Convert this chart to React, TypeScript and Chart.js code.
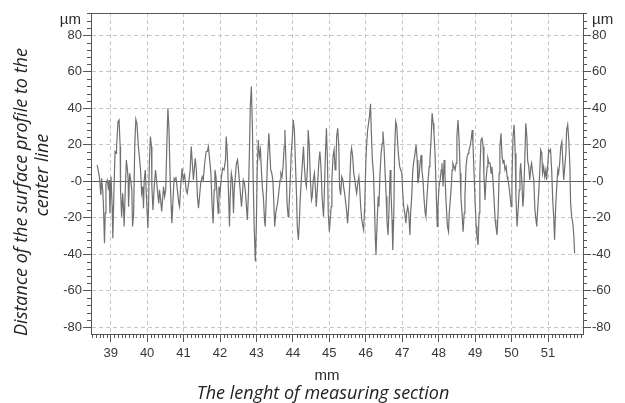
import React, { useEffect, useRef } from 'react';
import { Chart, registerables } from 'chart.js';

Chart.register(...registerables);

// axis ranges (mm / µm)
const X_MIN = 38.46;
const X_MAX = 51.96;
const Y_MIN = -83.7;
const Y_MAX = 92.2;
const X_MAJOR = 1;
const X_MINOR = 0.1;
const Y_MAJOR = 20;
const Y_MINOR = 4;

// texts
const yUnit = 'µm';
const xUnit = 'mm';
const xTitle = 'The lenght of measuring section';
const yTitleLines = ['Distance of the surface profile to the', 'center line'];

// surface profile [position mm, deviation µm]
const profile39to41: [number, number][] = [
  [38.63, 8.9], [38.69, 2.5], [38.73, -7.5], [38.75, 1.6], [38.78, -4.7], [38.80, -12.1], [38.83, -33.9], [38.85, -17.5],
  [38.87, -1.1], [38.91, 0.7], [38.94, -4.7], [38.96, 0.7], [38.98, -17.5], [39.01, 2.5], [39.04, -13.9], [39.06, -31.2],
  [39.09, -4.7], [39.12, 16.3], [39.15, 15.3], [39.16, 18.1], [39.20, 32.7], [39.23, 33.6], [39.26, 19], [39.27, -4.7],
  [39.30, -19.4], [39.33, -6.6], [39.35, -13.9], [39.37, -24.8], [39.40, -4.7], [39.43, 11.7], [39.46, 6.2], [39.48, 0.7],
  [39.49, -13.9], [39.52, 4.4], [39.55, 0.7], [39.58, -4.7], [39.60, -24.8], [39.63, -17.5], [39.66, 19], [39.69, 34],
  [39.72, 31.8], [39.76, 19], [39.79, 12.6], [39.82, 6.2], [39.85, -6.6], [39.88, -2.9], [39.90, -14.8], [39.92, 0.7],
  [39.95, 6.2], [39.98, -8.4], [40.02, -25.8], [40.04, -13.9], [40.06, 9.9], [40.09, 24.5], [40.12, 19], [40.13, -2.9],
  [40.16, -15.7], [40.19, -4.7], [40.23, 6.2], [40.25, 2.5], [40.29, -6.6], [40.32, -12.1], [40.34, -4.7], [40.37, -10.2],
  [40.40, -16.6], [40.43, -8.4], [40.45, -2.9], [40.48, -8.4], [40.51, -4.7], [40.54, 19], [40.57, 40], [40.60, 28.1],
  [40.63, 2.5], [40.66, -13.9], [40.68, -23], [40.71, -10.2], [40.74, 1.6], [40.77, 0.7], [40.79, 2.5], [40.83, -4.7],
  [40.87, -12.1], [40.89, -13.9], [40.92, -2.9], [40.96, 7.1], [40.99, 0.7], [41.03, 3.5], [41.07, -4.7], [41.10, -6.6],
  [41.14, -1.1], [41.18, 6.2], [41.21, 19], [41.24, 9.9], [41.27, 0.7], [41.30, 8], [41.32, 12.6], [41.35, 6.2],
  [41.38, -8.4], [41.41, -14.8], [41.43, -10.2], [41.47, -1.1], [41.51, 2.5], [41.54, 0.7], [41.58, 9.9], [41.62, 16.3],
  [41.65, 16.3], [41.68, 19], [41.71, 13],
];

const profile42to45: [number, number][] = [
  [41.75, 4.4], [41.78, -12.1], [41.81, -23], [41.84, -4.7], [41.86, 6.2], [41.89, 2.5], [41.92, -8.4], [41.95, -17.5],
  [41.97, -2.9], [42.00, -6.6], [42.04, 2.5], [42.07, 7.1], [42.11, 6.2], [42.15, 11.7], [42.17, 24.5], [42.20, 15.3],
  [42.23, -4.7], [42.26, -24.8], [42.28, -8.4], [42.31, 4.4], [42.34, 0.7], [42.37, -17.5], [42.39, -4.7], [42.42, 2.5],
  [42.45, 9.9], [42.48, 11.7], [42.50, 8], [42.53, 0.7], [42.56, -6.6], [42.59, -13.9], [42.61, -8.4], [42.64, 0.7],
  [42.67, -1.1], [42.70, -6.6], [42.72, -12.1], [42.75, -21.2], [42.78, -6.6], [42.81, 19], [42.83, 40.9], [42.86, 51.9],
  [42.89, 28.1], [42.91, 0.7], [42.94, -26.7], [42.97, -44], [43.00, -21.2], [43.02, 6.2], [43.05, 22.6], [43.08, 13.5],
  [43.11, 17.2], [43.13, 8], [43.16, -2.9], [43.19, -8.4], [43.22, -21.2], [43.24, -24.8], [43.27, -8.4], [43.30, 9.9],
  [43.34, 26.3], [43.36, 19], [43.39, 6.2], [43.42, 4.4], [43.45, 0.7], [43.47, -8.4], [43.50, -24.8], [43.53, -17.5],
  [43.56, -13.9], [43.58, -12.1], [43.61, -6.6], [43.65, 0.7], [43.67, 4.4], [43.70, 2.5], [43.73, 8], [43.76, 19],
  [43.78, 28.1], [43.81, 9.9], [43.84, -12.1], [43.87, -19.4], [43.89, -15.7], [43.92, -2.9], [43.95, 13.5], [43.98, 22.6],
  [44.01, 33.6], [44.04, 28.1], [44.07, 9.9], [44.10, -8.4], [44.12, -24.8], [44.15, -32.1], [44.18, -21.2], [44.20, -10.2],
  [44.23, 0.7], [44.26, 9.9], [44.29, 19], [44.31, 9.9], [44.34, 0.7], [44.37, -2.9], [44.40, 8], [44.42, 28.1],
  [44.45, 19], [44.48, 0.7], [44.51, -10.2], [44.53, -8.4], [44.56, 0.7], [44.59, 4.4], [44.62, -4.7], [44.64, -13.9],
  [44.67, -4.7], [44.71, 9.9], [44.74, 16.3], [44.77, 8], [44.80, -8.4], [44.84, -19.4], [44.86, -8.4], [44.89, 13.5],
  [44.92, 29], [44.95, 9.9], [44.97, -17.5], [45.00, -27.6],
];

const profile45to48: [number, number][] = [
  [45.05, -13.9], [45.07, 0.7], [45.10, 13.5], [45.13, 17.2], [45.16, 6.2], [45.18, 8], [45.20, 24.5], [45.23, 29],
  [45.26, 19], [45.28, -2.9], [45.31, -7.5], [45.34, 2.5], [45.37, 0.7], [45.39, -2.9], [45.42, -6.6], [45.45, -12.1],
  [45.48, -17.5], [45.50, -23], [45.53, -13.9], [45.56, -1.1], [45.59, 15.3], [45.61, 18.1], [45.64, 13.5], [45.67, 4.4],
  [45.70, 0.7], [45.72, -2.9], [45.75, -6.6], [45.78, -1.1], [45.81, 2.5], [45.83, -2.9], [45.86, -13.9], [45.89, -21.2],
  [45.92, -24.8], [45.94, -26.7], [45.97, -13.9], [46.00, 9.9], [46.02, 19], [46.05, 28.1], [46.10, 35.4], [46.13, 42.4],
  [46.15, 28.1], [46.18, 11.7], [46.21, 4.4], [46.24, -13.9], [46.26, -30.3], [46.28, -40.4], [46.31, -23], [46.34, -8.4],
  [46.36, -13.9], [46.39, 4.4], [46.42, 15.3], [46.45, 20.8], [46.47, 27.2], [46.50, 19], [46.53, 4.4], [46.56, -8.4],
  [46.58, -21.2], [46.61, -29.4], [46.64, -13.9], [46.67, 6.2], [46.69, -4.7], [46.72, -21.2], [46.74, -37.6], [46.77, -17.5],
  [46.79, 15.3], [46.82, 32.7], [46.85, 30], [46.88, 19], [46.90, 13.5], [46.93, 8], [46.96, 6.2], [46.99, 4.4],
  [47.01, -4.7], [47.04, -13.9], [47.07, -17.5], [47.10, -23], [47.12, -17.5], [47.15, -13.9], [47.18, -17.5], [47.21, -29.4],
  [47.23, -17.5], [47.26, -8.4], [47.29, 6.2], [47.31, 9.9], [47.34, 13.5], [47.38, 19.9], [47.41, 11.7], [47.43, -1.1],
  [47.46, 2.5], [47.49, 9.9], [47.52, 14.4], [47.54, 6.2], [47.57, 0.7], [47.60, -10.2], [47.63, -17.5], [47.65, -19.4],
  [47.68, -8.4], [47.71, 0.7], [47.74, 8], [47.76, 11.7], [47.79, 22.6], [47.82, 37.3], [47.85, 31.8], [47.87, 26.3],
  [47.90, 15.3], [47.93, -4.7], [47.96, -24.8], [47.98, -13.9], [48.01, -2.9], [48.04, 0.7], [48.07, 6.2], [48.09, 9.9],
  [48.12, -2.9], [48.15, 11.7], [48.17, 4.4], [48.20, -10.2], [48.24, -24.8], [48.27, -27.6], [48.29, -17.5],
];

const profile48to52: [number, number][] = [
  [48.34, -4.7], [48.37, 6.2], [48.39, 9.9], [48.42, 8], [48.45, 6.2], [48.48, 9.9], [48.50, 24.5], [48.53, 33.6],
  [48.56, 22.6], [48.59, 4.4], [48.61, -8.4], [48.64, -17.5], [48.67, -27.6], [48.70, -17.5], [48.72, -8.4], [48.75, 8],
  [48.78, 13.5], [48.81, 15.3], [48.83, 17.2], [48.86, 19], [48.89, 22.6], [48.92, 28.1], [48.94, 20.8], [48.97, 4.4],
  [49.00, -12.1], [49.03, -24.8], [49.05, -30.3], [49.08, -34.9], [49.11, -17.5], [49.13, 4.4], [49.16, 22.6], [49.19, 23.6],
  [49.22, 19], [49.24, 4.4], [49.27, -10.2], [49.30, 0.7], [49.33, 8], [49.35, 12.6], [49.38, 9.9], [49.41, 9.9],
  [49.44, 4.4], [49.46, 8], [49.49, 0.7], [49.52, -10.2], [49.55, -21.2], [49.57, -24.8], [49.60, -29.4], [49.63, -17.5],
  [49.66, 4.4], [49.68, 19], [49.71, 26.3], [49.74, 13.5], [49.77, 9.9], [49.79, 11.7], [49.82, 6.2], [49.85, 8],
  [49.88, 2.5], [49.90, 0.7], [49.93, -2.9], [49.96, -8.4], [49.99, -13.9], [50.01, 0.7], [50.04, 24.5], [50.07, 30.9],
  [50.10, 15.3], [50.12, -8.4], [50.15, -24.8], [50.18, -15.7], [50.21, -4.7], [50.23, 4.4], [50.25, 9.9], [50.28, 0.7],
  [50.31, -13.9], [50.33, -8.4], [50.36, 9.9], [50.39, 31.8], [50.42, 24.5], [50.44, 11.7], [50.47, 8], [50.50, 0.7],
  [50.53, 8], [50.55, 9.9], [50.58, 4.4], [50.61, 0.7], [50.64, -15.7], [50.66, -19.4], [50.69, -24.8], [50.72, -13.9],
  [50.75, -4.7], [50.77, 4.4], [50.80, 17.2], [50.83, 15.3], [50.85, 4.4], [50.88, 8], [50.91, 2.5], [50.94, 6.2],
  [50.96, 0.7], [50.99, 8], [51.02, 17.2], [51.05, 16.3], [51.07, 17.2], [51.10, 6.2], [51.13, -10.2], [51.16, -21.2],
  [51.18, -32.1], [51.21, -13.9], [51.24, -2.9], [51.27, 6.2], [51.29, 4.4], [51.32, 9.9], [51.35, 19], [51.38, 21.7],
  [51.40, 13.5], [51.43, 0.7], [51.46, 8], [51.49, 15.3], [51.51, 28.1], [51.54, 30.9], [51.57, 22.6], [51.60, 8],
  [51.62, -12.1], [51.65, -19.4], [51.68, -23], [51.71, -30.3], [51.73, -39.5],
];

const TICK_FONT = { family: '"Liberation Sans", Arial, sans-serif', size: 13 };
const AXIS_COLOR = '#555555';
const GRID_COLOR = '#c8c8c8';
const LABEL_COLOR = '#383838';

const decorPlugin = {
  id: 'decor',
  beforeDatasetsDraw(chart: any) {
    const { ctx, chartArea: a, scales } = chart;
    const y0 = Math.round(scales.y.getPixelForValue(0)) + 0.5;
    ctx.save();
    ctx.strokeStyle = '#5c5c5c';
    ctx.lineWidth = 1;
    ctx.beginPath();
    ctx.moveTo(a.left, y0);
    ctx.lineTo(a.right, y0);
    ctx.stroke();
    ctx.restore();
  },
  afterDraw(chart: any) {
    const { ctx, chartArea: a, scales } = chart;
    const xs = scales.x;
    const ys = scales.y;
    ctx.save();
    ctx.strokeStyle = AXIS_COLOR;
    ctx.lineWidth = 1;
    ctx.beginPath();
    // minor ticks on x
    const i0 = Math.ceil(X_MIN / X_MINOR);
    const i1 = Math.floor(X_MAX / X_MINOR);
    for (let i = i0; i <= i1; i++) {
      if (i % Math.round(X_MAJOR / X_MINOR) === 0) continue;
      const px = Math.round(xs.getPixelForValue(i * X_MINOR)) + 0.5;
      ctx.moveTo(px, a.bottom);
      ctx.lineTo(px, a.bottom + 4);
    }
    // minor ticks on both y axes
    const j0 = Math.ceil(Y_MIN / Y_MINOR);
    const j1 = Math.floor(Y_MAX / Y_MINOR);
    for (let j = j0; j <= j1; j++) {
      const v = j * Y_MINOR;
      if (v % Y_MAJOR === 0) continue;
      const py = Math.round(ys.getPixelForValue(v)) + 0.5;
      ctx.moveTo(a.left - 4, py);
      ctx.lineTo(a.left, py);
      ctx.moveTo(a.right, py);
      ctx.lineTo(a.right + 4, py);
    }
    // top border of the plot box
    ctx.moveTo(a.left, Math.round(a.top) + 0.5);
    ctx.lineTo(a.right, Math.round(a.top) + 0.5);
    ctx.stroke();

    // unit labels
    ctx.fillStyle = '#2a2a2a';
    ctx.font = '15px "Liberation Sans", Arial, sans-serif';
    ctx.textBaseline = 'alphabetic';
    ctx.textAlign = 'right';
    ctx.fillText(yUnit, a.left - 10, 24);
    ctx.textAlign = 'left';
    ctx.fillText(yUnit, a.right + 9, 24);
    ctx.textAlign = 'center';
    ctx.fillText(xUnit, 327, 380);

    // titles
    ctx.font = 'italic 18px "Open Sans", sans-serif';
    ctx.fillStyle = '#222222';
    ctx.fillText(xTitle, 323, 399);
    ctx.save();
    ctx.translate(27, 192);
    ctx.rotate(-Math.PI / 2);
    ctx.fillText(yTitleLines[0], 0, 0);
    ctx.restore();
    ctx.save();
    ctx.translate(48, 175);
    ctx.rotate(-Math.PI / 2);
    ctx.fillText(yTitleLines[1], 0, 0);
    ctx.restore();
    ctx.restore();
  },
};

const yTickLabel = (v: any) => (Number(v) === 0 ? '-0' : String(v));

export default function App() {
  const ref = useRef<HTMLCanvasElement | null>(null);

  useEffect(() => {
    if (!ref.current) return;
    const points = [...profile39to41, ...profile42to45, ...profile45to48, ...profile48to52].map(([x, y]) => ({ x, y }));
    const chart = new Chart(ref.current, {
      type: 'line',
      data: {
        datasets: [
          {
            data: points,
            borderColor: '#707070',
            borderWidth: 1.2,
            pointRadius: 0,
            tension: 0,
            fill: false,
            yAxisID: 'y',
          },
        ],
      },
      options: {
        animation: false,
        responsive: false,
        devicePixelRatio: 1,
        parsing: false as any,
        layout: { padding: { top: 13, left: 0, right: 0, bottom: 0 } },
        plugins: { legend: { display: false }, tooltip: { enabled: false }, title: { display: false } },
        scales: {
          x: {
            type: 'linear',
            min: X_MIN,
            max: X_MAX,
            afterFit: (s: any) => { s.height = 69; },
            ticks: {
              stepSize: X_MAJOR,
              includeBounds: false,
              autoSkip: false,
              maxRotation: 0,
              minRotation: 0,
              padding: 4,
              font: TICK_FONT,
              color: LABEL_COLOR,
            },
            grid: { color: GRID_COLOR, tickColor: AXIS_COLOR, tickLength: 8, tickBorderDash: [] },
            border: { color: AXIS_COLOR, width: 1, dash: [4, 3] },
          },
          y: {
            type: 'linear',
            position: 'left',
            min: Y_MIN,
            max: Y_MAX,
            afterFit: (s: any) => { s.width = 91; },
            ticks: {
              stepSize: Y_MAJOR,
              includeBounds: false,
              padding: 1,
              font: TICK_FONT,
              color: LABEL_COLOR,
              callback: yTickLabel,
            },
            grid: { color: GRID_COLOR, tickColor: AXIS_COLOR, tickLength: 8, tickBorderDash: [] },
            border: { color: AXIS_COLOR, width: 1, dash: [4, 3] },
          },
          y2: {
            type: 'linear',
            position: 'right',
            min: Y_MIN,
            max: Y_MAX,
            afterFit: (s: any) => { s.width = 42; },
            ticks: {
              stepSize: Y_MAJOR,
              includeBounds: false,
              padding: 1,
              font: TICK_FONT,
              color: LABEL_COLOR,
              callback: yTickLabel,
            },
            grid: { drawOnChartArea: false, color: GRID_COLOR, tickColor: AXIS_COLOR, tickLength: 8, tickBorderDash: [] },
            border: { color: AXIS_COLOR, width: 1 },
          },
        },
      } as any,
      plugins: [decorPlugin],
    });
    return () => chart.destroy();
  }, []);

  return (
    <div style={{ position: 'absolute', left: 0, top: 0, width: 625, height: 403, background: '#ffffff' }}>
      <canvas ref={ref} width={625} height={403} style={{ width: 625, height: 403, display: 'block' }} />
    </div>
  );
}
